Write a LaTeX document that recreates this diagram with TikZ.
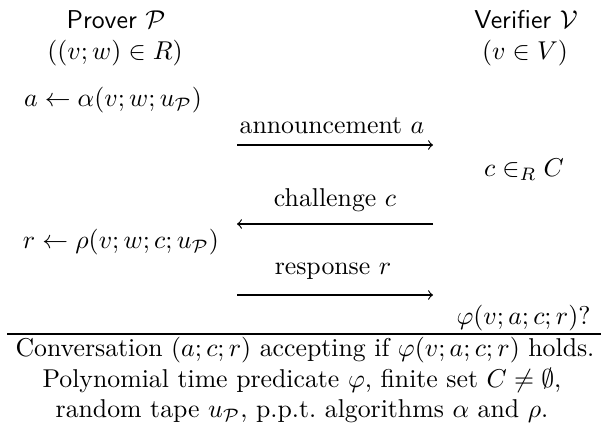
\documentclass[tikz,border=0pt]{standalone}
\usepackage{amsmath,amssymb}
\begin{document}
\begin{tikzpicture}[x=0.388pt,y=-0.388pt,
  lbl/.style={inner sep=0pt,anchor=center},
  msg/.style={->,line width=0.45pt}]
\useasboundingbox (0,0) rectangle (603,425);
\node[lbl] (prover) at (116,20) {\textsf{Prover} $\mathcal{P}$};
\node[lbl] (pin) at (115,53) {$((v;w)\in R)$};
\node[lbl] (acomp) at (113,100) {$a\leftarrow\alpha(v;w;u_{\mathcal{P}})$};
\node[lbl] (verifier) at (526,20) {\textsf{Verifier} $\mathcal{V}$};
\node[lbl] (vin) at (525,53) {$(v\in V)$};
\coordinate (a1) at (237,145); \coordinate (a2) at (433,145);
\coordinate (c1) at (433,224); \coordinate (c2) at (237,224);
\coordinate (r1) at (237,295); \coordinate (r2) at (433,295);
\node[lbl] (alab) at (332,126) {announcement $a$};
\draw[msg] (a1) -- (a2);
\node[lbl] (ccomp) at (524,170) {$c\in_R C$};
\node[lbl] (clab) at (335,200) {challenge $c$};
\draw[msg] (c1) -- (c2);
\node[lbl] (rcomp) at (121,242) {$r\leftarrow\rho(v;w;c;u_{\mathcal{P}})$};
\node[lbl] (rlab) at (333,271) {response $r$};
\draw[msg] (r1) -- (r2);
\node[lbl,anchor=base east] (check) at (591,325) {$\varphi(v;a;c;r)?$};
\coordinate (l1) at (7,334); \coordinate (l2) at (601,334);
\draw[line width=0.6pt] (l1) -- (l2);
\node[lbl,anchor=base] (t1) at (305,357) {Conversation $(a;c;r)$ accepting if $\varphi(v;a;c;r)$ holds.};
\node[lbl,anchor=base] (t2) at (302,388) {Polynomial time predicate $\varphi$, finite set $C\neq\emptyset$,};
\node[lbl,anchor=base] (t3) at (302,418) {random tape $u_{\mathcal{P}}$, p.p.t.\ algorithms $\alpha$ and $\rho$.};
\end{tikzpicture}
\end{document}
